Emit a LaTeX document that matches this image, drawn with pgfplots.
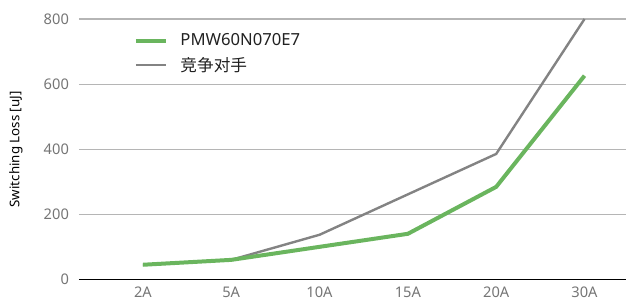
\documentclass[border=0pt]{standalone}
\usepackage{pgfplots}
\pgfplotsset{compat=1.18}
\usepackage{fontspec}
\setmainfont{Noto Sans}
\newfontfamily\cjk{Noto Sans CJK SC}
\definecolor{cgreen}{HTML}{6AB55E}
\definecolor{cgray}{HTML}{838383}
\definecolor{ctick}{HTML}{757575}
\definecolor{cgrid}{HTML}{B5B5B5}
\begin{document}
\begin{tikzpicture}[x=0.75pt,y=0.75pt]
\begin{axis}[
  at={(0,0)}, anchor=south west,
  scale only axis,
  width=411pt, height=195.75pt,
  xmin=-0.724, xmax=5.475,
  ymin=0, ymax=800,
  xtick={0,1,2,3,4,5},
  xticklabels={2A,5A,10A,15A,20A,30A},
  ytick={0,200,400,600,800},
  ymajorgrids,
  grid style={cgrid, line width=0.8pt},
  axis x line*=bottom,
  axis y line*=left,
  y axis line style={draw=none},
  x axis line style={black, line width=0.8pt, -},
  major tick length=0pt,
  tick label style={font=\fontsize{11}{13}\selectfont, color=ctick},
  /pgf/number format/assume math mode=true,
  yticklabel style={xshift=-4pt},
  xticklabel style={yshift=-2pt},
  ylabel={Switching Loss [uJ]},
  ylabel style={font=\fontsize{10.3}{12}\selectfont, color=black!85},
  every axis y label/.style={at={(ticklabel cs:0.5)}, rotate=90, anchor=near ticklabel, yshift=9pt},
  clip=false,
]
\addplot[color=cgray, line width=1.8pt] coordinates {(0,46) (1,61) (2,138) (3,262) (4,386) (5,800)};
\addplot[color=cgreen, line width=3pt] coordinates {(0,46) (1,61) (2,101) (3,141) (4,285) (5,626)};
\end{axis}
\begin{axis}[
  at={(0,0)}, anchor=south west,
  scale only axis, hide axis,
  width=411pt, height=195.75pt,
  xmin=-0.724, xmax=5.475, ymin=0, ymax=800,
  legend cell align=left,
  legend style={draw=none, fill=none, at={(38pt,190pt)}, anchor=north west,
    font=\fontsize{12.5}{14}\selectfont, text=black!87, row sep=1pt, nodes={inner sep=3pt}},
  legend image code/.code={\draw[#1] (0pt,0pt) -- (22.5pt,0pt); \path (29pt,0pt);},
]
\addlegendimage{color=cgreen, line width=3pt}
\addlegendentry{PMW60N070E7}
\addlegendimage{color=cgray, line width=1.8pt}
\addlegendentry{{\cjk 竞争对手}}
\end{axis}
\path[use as bounding box] (-79,-26) rectangle (548,280);
\end{tikzpicture}
\end{document}
